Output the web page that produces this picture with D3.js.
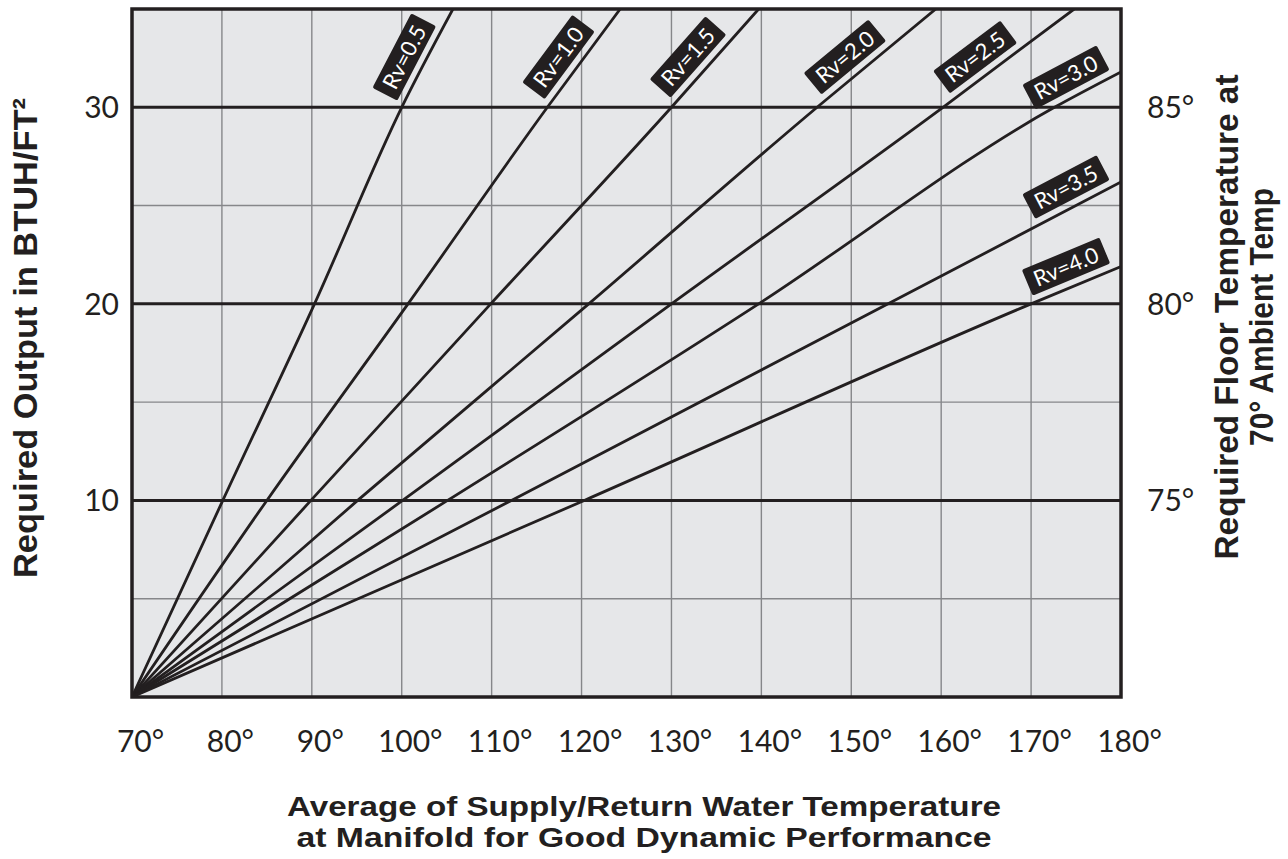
<!DOCTYPE html>
<html>
<head>
<meta charset="utf-8">
<script src="https://cdn.jsdelivr.net/npm/d3@7"></script>
<style>
  body { margin: 0; background: #fff; }
  .tickLabel { font-family: Lato, "Open Sans", sans-serif; font-size: 30px; fill: #231f20; }
  .axisTitle { font-family: "Liberation Sans", Arial, sans-serif; font-weight: bold; fill: #231f20; }
  .rvText { font-family: Lato, "Open Sans", sans-serif; font-size: 22px; fill: #fff; }
</style>
</head>
<body>
<svg id="chart" width="1288" height="859"></svg>
<script>
// ---- data ----
var rvLabels = ["Rv=0.5", "Rv=1.0", "Rv=1.5", "Rv=2.0", "Rv=2.5", "Rv=3.0", "Rv=3.5", "Rv=4.0"];

// each: [water temp, output BTUH/ft2]
var rv05 = [[70, 0], [80.1, 10], [90.3, 20], [100, 30], [105.7, 35]];
var rv10 = [[70, 0], [85, 10], [100.7, 20], [116.2, 30], [124.3, 35]];
var rv15 = [[70, 0], [89.9, 10], [109.9, 20], [130, 30], [139.7, 35]];
var rv20 = [[70, 0], [95.1, 10], [120.8, 20], [146.2, 30], [159.4, 35]];
var rv25 = [[70, 0], [100.1, 10], [130, 20], [160.2, 30], [174.8, 35]];
var rv30 = [[70, 0], [105.1, 10], [139.7, 20], [172.6, 30], [180, 31.8]];
var rv35 = [[70, 0], [112.2, 10], [154.1, 20], [180, 26.2]];
var rv40 = [[70, 0], [120.3, 10], [170, 20], [180, 21.9]];

var xTicks = [70, 80, 90, 100, 110, 120, 130, 140, 150, 160, 170, 180];
var yMajorTicks = [10, 20, 30];
var yMinorTicks = [5, 15, 25];
var floorTicks = [75, 80, 85];

var series = [rv05, rv10, rv15, rv20, rv25, rv30, rv35, rv40].map(function(pts, i) {
  return { label: rvLabels[i], points: pts };
});

// ---- layout ----
var svg = d3.select("#chart");
var plot = { left: 132, top: 9, right: 1121, bottom: 697 };

var x = d3.scaleLinear().domain([70, 180]).range([plot.left, plot.right]);
var y = d3.scaleLinear().domain([0, 35]).range([plot.bottom, plot.top]);
var yFloor = d3.scaleLinear().domain([70, 87.5]).range([plot.bottom, plot.top]);

svg.append("defs").append("clipPath").attr("id", "plotClip")
  .append("rect")
  .attr("x", plot.left).attr("y", plot.top)
  .attr("width", plot.right - plot.left).attr("height", plot.bottom - plot.top);

// background
svg.append("rect")
  .attr("x", plot.left).attr("y", plot.top)
  .attr("width", plot.right - plot.left).attr("height", plot.bottom - plot.top)
  .attr("fill", "#e6e7e9");

// grid
var grid = svg.append("g");
grid.selectAll(".vgrid").data(xTicks).enter().append("line")
  .attr("x1", function(d) { return x(d); }).attr("x2", function(d) { return x(d); })
  .attr("y1", plot.top).attr("y2", plot.bottom)
  .attr("stroke", "#86878a").attr("stroke-width", 1.4);

grid.selectAll(".minor").data(yMinorTicks).enter().append("line")
  .attr("x1", plot.left).attr("x2", plot.right)
  .attr("y1", function(d) { return y(d); }).attr("y2", function(d) { return y(d); })
  .attr("stroke", "#86878a").attr("stroke-width", 1.4);

grid.selectAll(".major").data(yMajorTicks).enter().append("line")
  .attr("x1", plot.left).attr("x2", plot.right)
  .attr("y1", function(d) { return y(d); }).attr("y2", function(d) { return y(d); })
  .attr("stroke", "#231f20").attr("stroke-width", 3);

// Rv lines
var line = d3.line()
  .x(function(d) { return x(d[0]); })
  .y(function(d) { return y(d[1]); })
  .curve(d3.curveMonotoneX);

svg.append("g").attr("clip-path", "url(#plotClip)")
  .selectAll("path").data(series).enter().append("path")
  .attr("d", function(d) { return line(d.points); })
  .attr("fill", "none")
  .attr("stroke", "#231f20")
  .attr("stroke-width", 2.8);

// border
svg.append("rect")
  .attr("x", plot.left).attr("y", plot.top)
  .attr("width", plot.right - plot.left).attr("height", plot.bottom - plot.top)
  .attr("fill", "none").attr("stroke", "#231f20").attr("stroke-width", 3.5);

// Rv labels: black tags sitting on the upper-left side of each line, near its end.
// lines that run out the top get tags at a fixed height, the others at a fixed x
var labelTop = plot.top + 48, labelRight = plot.right - 55, off = 21;

var labels = svg.append("g").selectAll("g").data(series).enter().append("g")
  .attr("transform", function(d) {
    var p = d.points;
    var a = p[p.length - 2], b = p[p.length - 1];
    var ex = x(b[0]), ey = y(b[1]);
    var dx = ex - x(a[0]), dy = ey - y(a[1]);
    var len = Math.sqrt(dx * dx + dy * dy);
    var ux = dx / len, uy = dy / len;
    var back;
    if (b[0] < 180) back = (ey - ux * off - labelTop) / uy;
    else back = (ex + uy * off - labelRight) / ux;
    var cx = ex - ux * back + uy * off;
    var cy = ey - uy * back - ux * off;
    var ang = Math.atan2(dy, dx) * 180 / Math.PI;
    return "translate(" + cx + "," + cy + ") rotate(" + ang + ")";
  });

labels.append("rect")
  .attr("x", -42).attr("y", -14)
  .attr("width", 84).attr("height", 28)
  .attr("rx", 2)
  .attr("fill", "#231f20");

labels.append("text")
  .attr("class", "rvText")
  .attr("text-anchor", "middle")
  .attr("dy", "0.36em")
  .text(function(d) { return d.label; });

// axes
var xAxis = d3.axisBottom(x).tickValues(xTicks).tickSize(0).tickPadding(0)
  .tickFormat(function(d) { return d + "°"; });
var gx = svg.append("g").attr("transform", "translate(8," + (plot.bottom + 26) + ")").call(xAxis);

var yAxis = d3.axisLeft(y).tickValues(yMajorTicks).tickSize(0).tickPadding(0);
var gy = svg.append("g").attr("transform", "translate(" + (plot.left - 13) + ",0)").call(yAxis);

var rAxis = d3.axisRight(yFloor).tickValues(floorTicks).tickSize(0).tickPadding(0)
  .tickFormat(function(d) { return d + "°"; });
var gr = svg.append("g").attr("transform", "translate(" + (plot.right + 26) + ",0)").call(rAxis);

[gx, gy, gr].forEach(function(g) {
  g.select(".domain").remove();
  g.selectAll("text").attr("class", "tickLabel").attr("font-size", null).attr("font-family", null);
});
gx.selectAll("text").attr("dy", "0.95em");
gy.selectAll("text").attr("dy", "0.35em");
gr.selectAll("text").attr("dy", "0.35em");

// titles
function title(txt, size, len, transform) {
  return svg.append("text").attr("class", "axisTitle")
    .attr("text-anchor", "middle")
    .attr("font-size", size)
    .attr("textLength", len)
    .attr("lengthAdjust", "spacingAndGlyphs")
    .attr("transform", transform)
    .text(txt);
}

title("Required Output in BTUH/FT²", 34, 480, "translate(37,338) rotate(-90)");
title("Required Floor Temperature at", 34, 485, "translate(1238,317) rotate(-90)");
title("70° Ambient Temp", 34, 258, "translate(1273,317) rotate(-90)");
title("Average of Supply/Return Water Temperature", 27, 714, "translate(644,816)");
title("at Manifold for Good Dynamic Performance", 27, 695, "translate(644,847)");
</script>
</body>
</html>
